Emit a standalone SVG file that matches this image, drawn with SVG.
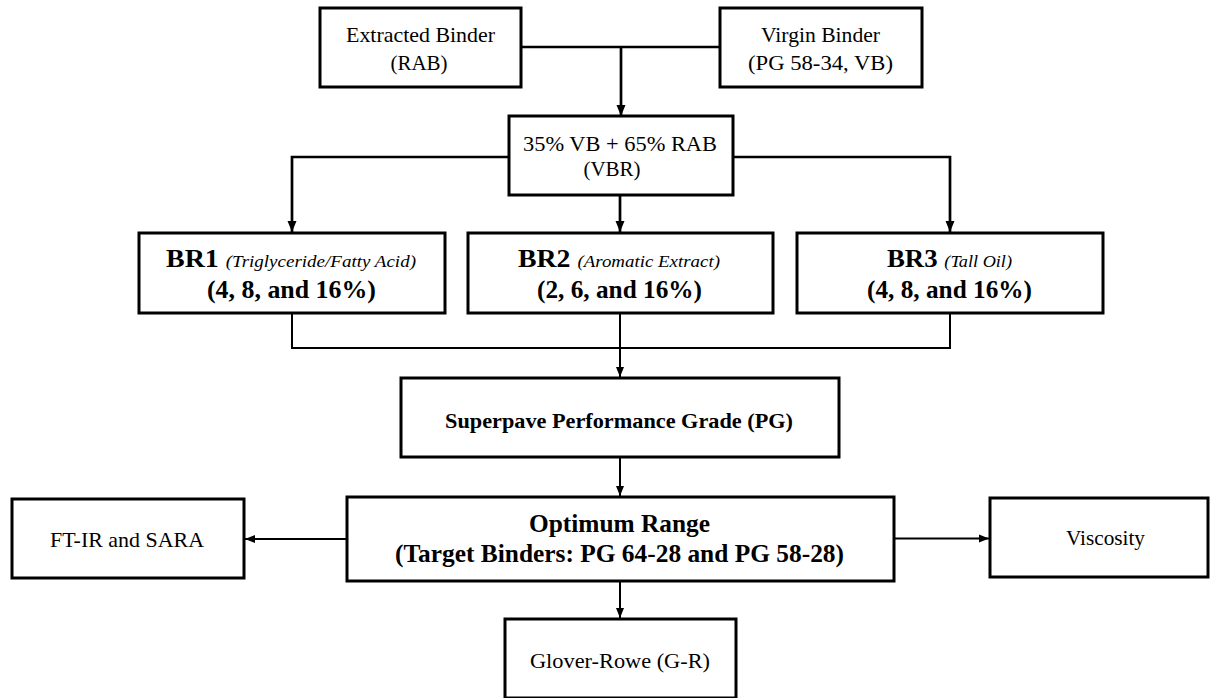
<svg xmlns="http://www.w3.org/2000/svg" width="1211" height="698" viewBox="0 0 1211 698">
<defs>
<marker id="ah" markerWidth="12" markerHeight="12" refX="11" refY="5" orient="auto" markerUnits="userSpaceOnUse">
<path d="M0,0.5 L11,5 L0,9.5 Z" fill="#000"/>
</marker>
<marker id="ahs" markerWidth="10" markerHeight="10" refX="10" refY="4.5" orient="auto" markerUnits="userSpaceOnUse">
<path d="M0,0.5 L10,4.5 L0,8.5 Z" fill="#000"/>
</marker>
<style>
.box{fill:#fff;stroke:#000;stroke-width:3}
.ln{fill:none;stroke:#000;stroke-width:2}
.lt{fill:none;stroke:#000;stroke-width:2.7}
.t{font-family:"Liberation Serif","Times New Roman",serif;fill:#000;text-anchor:middle}
.r{font-size:21px}
.b{font-weight:bold}
.i{font-style:italic;font-weight:normal;font-size:17px}
</style>
</defs>
<rect width="1211" height="698" fill="#fff"/>
<g id="connectors">
<path class="lt" d="M521,47 H720"/>
<path class="lt" d="M621,47 V116" marker-end="url(#ah)"/>
<path class="lt" d="M509,157 H292 V232" marker-end="url(#ah)"/>
<path class="lt" d="M733,157 H950 V232" marker-end="url(#ah)"/>
<path class="lt" d="M620,195 V232" marker-end="url(#ah)"/>
<path class="ln" d="M292,313 V348 H950 V313"/>
<path class="ln" d="M620,313 V377" marker-end="url(#ahs)"/>
<path class="ln" d="M620,457 V496" marker-end="url(#ahs)"/>
<path class="ln" d="M347,539 H245" marker-end="url(#ahs)"/>
<path class="ln" d="M894,538.5 H989" marker-end="url(#ahs)"/>
<path class="ln" d="M620,581 V618" marker-end="url(#ahs)"/>
</g>
<g id="rab">
<rect class="box" x="320" y="8" width="201" height="79"/>
<text class="t r" x="420.5" y="41.5" textLength="149" lengthAdjust="spacingAndGlyphs">Extracted Binder</text>
<text class="t r" x="419" y="70">(RAB)</text>
</g>
<g id="vb">
<rect class="box" x="720" y="8" width="202" height="79"/>
<text class="t r" x="820.5" y="41.5" textLength="119" lengthAdjust="spacingAndGlyphs">Virgin Binder</text>
<text class="t r" x="820.5" y="70" textLength="145" lengthAdjust="spacingAndGlyphs">(PG 58-34, VB)</text>
</g>
<g id="vbr">
<rect class="box" x="509" y="116" width="224" height="79"/>
<text class="t r" x="620" y="151" textLength="194" lengthAdjust="spacingAndGlyphs">35% VB + 65% RAB</text>
<text class="t r" x="612" y="176">(VBR)</text>
</g>
<g id="br1">
<rect class="box" x="139" y="233" width="306" height="80"/>
<text class="t b" x="291" y="267" font-size="25" textLength="250" lengthAdjust="spacingAndGlyphs">BR1 <tspan class="i">(Triglyceride/Fatty Acid)</tspan></text>
<text class="t b" x="291.5" y="298" font-size="25" textLength="169" lengthAdjust="spacingAndGlyphs">(4, 8, and 16%)</text>
</g>
<g id="br2">
<rect class="box" x="468" y="233" width="305" height="80"/>
<text class="t b" x="619" y="267" font-size="25" textLength="202" lengthAdjust="spacingAndGlyphs">BR2 <tspan class="i">(Aromatic Extract)</tspan></text>
<text class="t b" x="619.5" y="298" font-size="25" textLength="165" lengthAdjust="spacingAndGlyphs">(2, 6, and 16%)</text>
</g>
<g id="br3">
<rect class="box" x="797" y="233" width="306" height="80"/>
<text class="t b" x="949.5" y="267" font-size="25" textLength="125" lengthAdjust="spacingAndGlyphs">BR3 <tspan class="i">(Tall Oil)</tspan></text>
<text class="t b" x="949.5" y="298" font-size="25" textLength="165" lengthAdjust="spacingAndGlyphs">(4, 8, and 16%)</text>
</g>
<g id="superpave">
<rect class="box" x="401" y="378" width="438" height="79"/>
<text class="t b" x="619" y="428" font-size="22" textLength="348" lengthAdjust="spacingAndGlyphs">Superpave Performance Grade (PG)</text>
</g>
<g id="optimum">
<rect class="box" x="347" y="497" width="547" height="84"/>
<text class="t b" x="619.5" y="532" font-size="25" textLength="181" lengthAdjust="spacingAndGlyphs">Optimum Range</text>
<text class="t b" x="619.5" y="562" font-size="25" textLength="449" lengthAdjust="spacingAndGlyphs">(Target Binders: PG 64-28 and PG 58-28)</text>
</g>
<g id="ftir">
<rect class="box" x="12" y="499" width="232" height="79"/>
<text class="t r" x="127" y="547" textLength="154" lengthAdjust="spacingAndGlyphs">FT-IR and SARA</text>
</g>
<g id="viscosity">
<rect class="box" x="990" y="498" width="218" height="79"/>
<text class="t r" x="1105.5" y="545" textLength="79" lengthAdjust="spacingAndGlyphs">Viscosity</text>
</g>
<g id="gr">
<rect class="box" x="505" y="619" width="231" height="79"/>
<text class="t r" x="620" y="668" textLength="180" lengthAdjust="spacingAndGlyphs">Glover-Rowe (G-R)</text>
</g>
</svg>
